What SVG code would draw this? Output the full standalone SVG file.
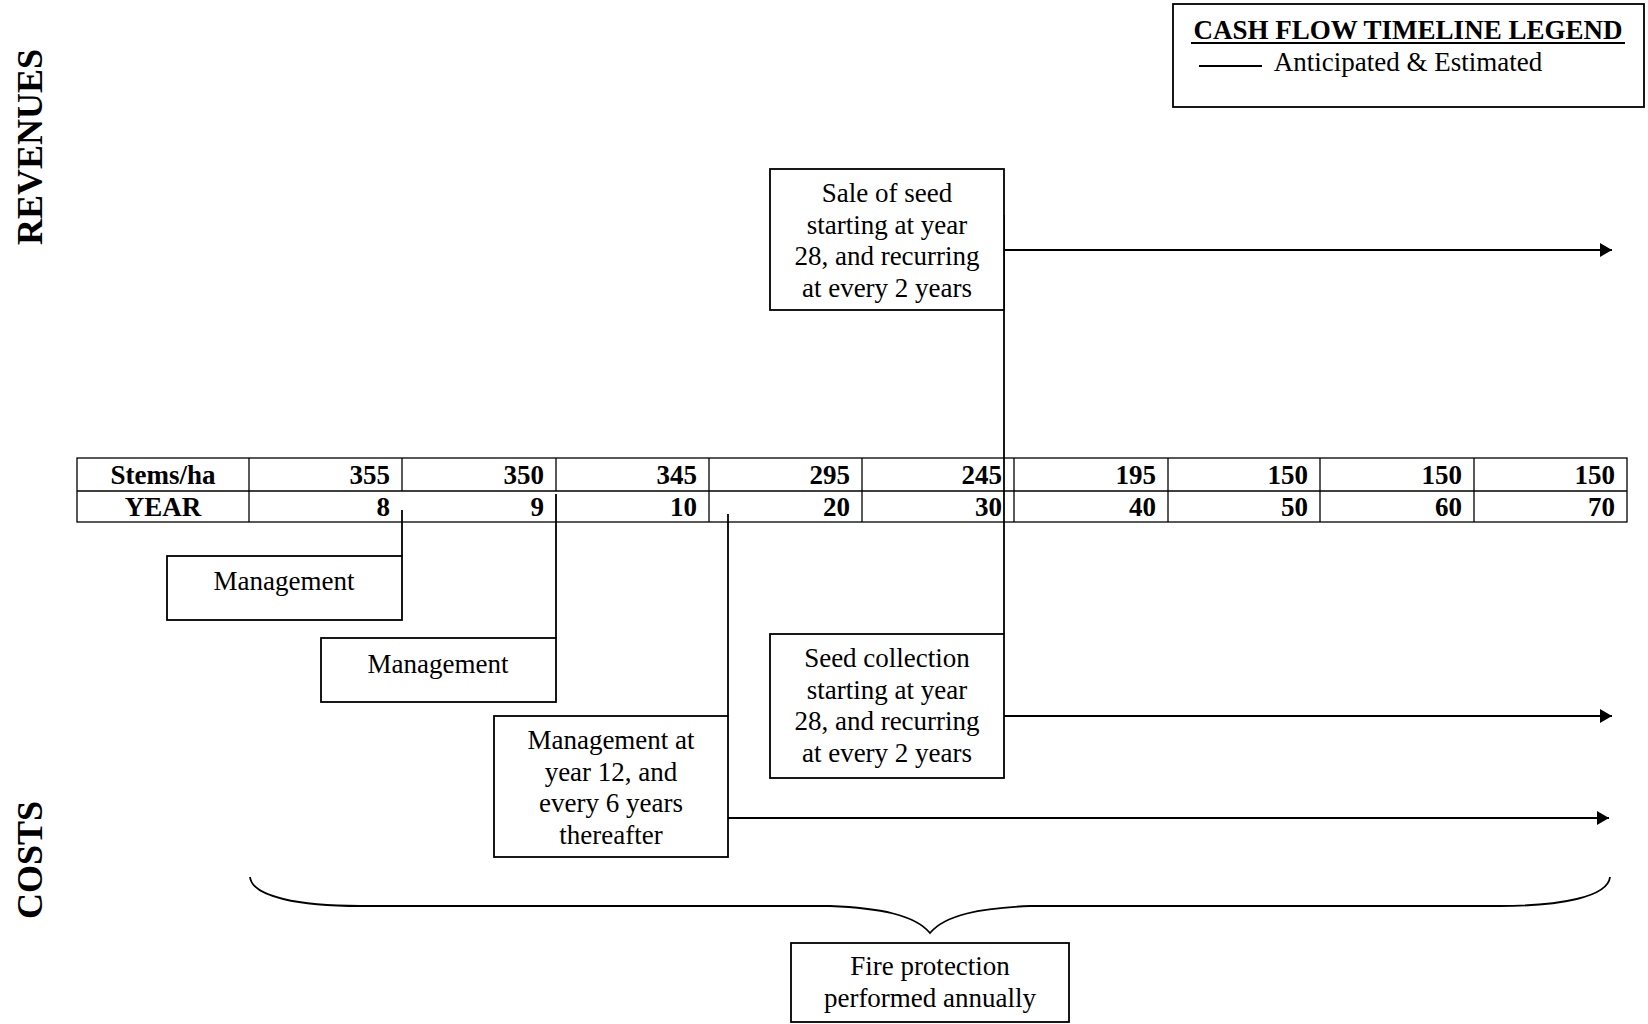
<svg xmlns="http://www.w3.org/2000/svg" width="1648" height="1024" viewBox="0 0 1648 1024">
<defs>
<marker id="arr" viewBox="0 0 12 14" refX="12" refY="7" markerWidth="12" markerHeight="14" markerUnits="userSpaceOnUse" orient="auto">
<path d="M0,0 L12,7 L0,14 Z" fill="#000"/>
</marker>
<style>
.bx{fill:#fff;stroke:#000;stroke-width:1.8}
.t{font-family:"Liberation Serif","Times New Roman",serif;font-size:27px;fill:#000;text-anchor:middle}
.b{font-family:"Liberation Serif","Times New Roman",serif;font-size:27px;font-weight:bold;fill:#000}
.n{text-anchor:end}
.c{text-anchor:middle}
.grid{stroke:#000;stroke-width:1.3;fill:none}
.ln{stroke:#000;stroke-width:1.8;fill:none}
.side{font-family:"Liberation Serif","Times New Roman",serif;font-size:36px;font-weight:bold;fill:#000;text-anchor:middle}
</style>
</defs>
<rect width="1648" height="1024" fill="#fff"/>

<g id="legend">
<rect class="bx" x="1173" y="4" width="471" height="103"/>
<text class="b c" x="1408" y="39">CASH FLOW TIMELINE LEGEND</text>
<line x1="1191" y1="43" x2="1625" y2="43" stroke="#000" stroke-width="2"/>
<line x1="1199" y1="66" x2="1262" y2="66" stroke="#000" stroke-width="1.8"/>
<text class="t" x="1408" y="71">Anticipated &amp; Estimated</text>
</g>

<g id="label-revenues"><text class="side" transform="translate(42,147) rotate(-90)">REVENUES</text></g>
<g id="label-costs"><text class="side" transform="translate(42,860) rotate(-90)">COSTS</text></g>

<g id="table">
<rect class="grid" x="77" y="458" width="1550" height="64"/>
<line class="grid" x1="77" y1="491" x2="1627" y2="491"/>
<line class="grid" x1="249" y1="458" x2="249" y2="522"/>
<line class="grid" x1="402" y1="458" x2="402" y2="491"/>
<line class="grid" x1="556" y1="458" x2="556" y2="491"/>
<line class="grid" x1="709" y1="458" x2="709" y2="522"/>
<line class="grid" x1="862" y1="458" x2="862" y2="522"/>
<line class="grid" x1="1014" y1="458" x2="1014" y2="522"/>
<line class="grid" x1="1168" y1="458" x2="1168" y2="522"/>
<line class="grid" x1="1320" y1="458" x2="1320" y2="522"/>
<line class="grid" x1="1474" y1="458" x2="1474" y2="522"/>
<text class="b c" x="163" y="484">Stems/ha</text>
<text class="b c" x="163" y="516">YEAR</text>
<text class="b n" x="390" y="484">355</text>
<text class="b n" x="544" y="484">350</text>
<text class="b n" x="697" y="484">345</text>
<text class="b n" x="850" y="484">295</text>
<text class="b n" x="1002" y="484">245</text>
<text class="b n" x="1156" y="484">195</text>
<text class="b n" x="1308" y="484">150</text>
<text class="b n" x="1462" y="484">150</text>
<text class="b n" x="1615" y="484">150</text>
<text class="b n" x="390" y="516">8</text>
<text class="b n" x="544" y="516">9</text>
<text class="b n" x="697" y="516">10</text>
<text class="b n" x="850" y="516">20</text>
<text class="b n" x="1002" y="516">30</text>
<text class="b n" x="1156" y="516">40</text>
<text class="b n" x="1308" y="516">50</text>
<text class="b n" x="1462" y="516">60</text>
<text class="b n" x="1615" y="516">70</text>
</g>

<g id="connectors">
<line class="ln" x1="1004" y1="215" x2="1004" y2="634"/>
<line class="ln" x1="1004" y1="250" x2="1612" y2="250" marker-end="url(#arr)"/>
<line class="ln" x1="1004" y1="716" x2="1612" y2="716" marker-end="url(#arr)"/>
<line class="ln" x1="402" y1="510" x2="402" y2="556"/>
<line class="ln" x1="556" y1="494" x2="556" y2="638"/>
<line class="ln" x1="728" y1="514" x2="728" y2="716"/>
<line class="ln" x1="728" y1="818" x2="1609" y2="818" marker-end="url(#arr)"/>
<path class="ln" d="M250,877 C252,897 300,906 360,906 L830,906 C880,908 915,915 930,933 C945,915 980,908 1030,906 L1500,906 C1560,906 1608,897 1610,877"/>
</g>

<g id="sale-of-seed">
<rect class="bx" x="770" y="169" width="234" height="141"/>
<text class="t" x="887" y="202">Sale of seed</text>
<text class="t" x="887" y="234">starting at year</text>
<text class="t" x="887" y="265">28, and recurring</text>
<text class="t" x="887" y="297">at every 2 years</text>
</g>

<g id="management-8">
<rect class="bx" x="167" y="556" width="235" height="64"/>
<text class="t" x="284" y="590">Management</text>
</g>

<g id="management-9">
<rect class="bx" x="321" y="638" width="235" height="64"/>
<text class="t" x="438" y="673">Management</text>
</g>

<g id="management-12">
<rect class="bx" x="494" y="716" width="234" height="141"/>
<text class="t" x="611" y="749">Management at</text>
<text class="t" x="611" y="781">year 12, and</text>
<text class="t" x="611" y="812">every 6 years</text>
<text class="t" x="611" y="844">thereafter</text>
</g>

<g id="seed-collection">
<rect class="bx" x="770" y="634" width="234" height="144"/>
<text class="t" x="887" y="667">Seed collection</text>
<text class="t" x="887" y="699">starting at year</text>
<text class="t" x="887" y="730">28, and recurring</text>
<text class="t" x="887" y="762">at every 2 years</text>
</g>

<g id="fire-protection">
<rect class="bx" x="791" y="943" width="278" height="79"/>
<text class="t" x="930" y="975">Fire protection</text>
<text class="t" x="930" y="1007">performed annually</text>
</g>
</svg>
